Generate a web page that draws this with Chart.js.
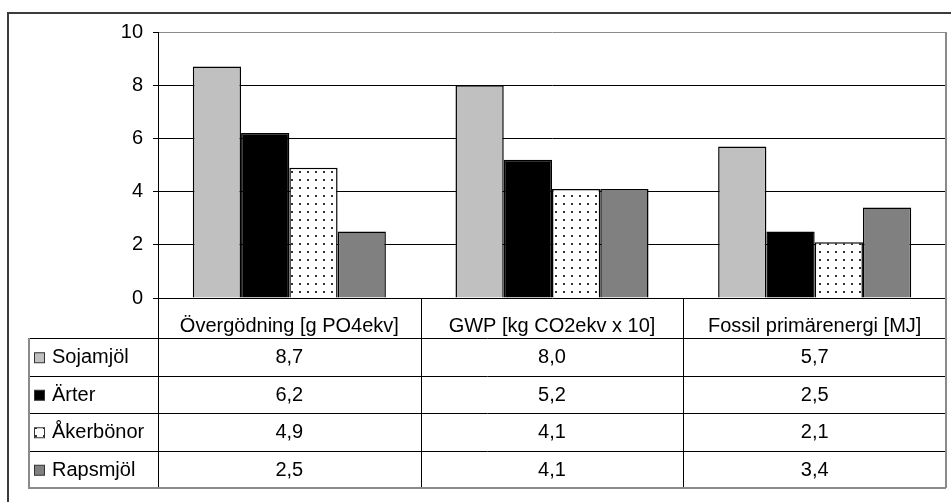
<!DOCTYPE html>
<html>
<head>
<meta charset="utf-8">
<script src="https://cdn.jsdelivr.net/npm/chart.js@4/dist/chart.umd.min.js"></script>
<style>
  body { margin: 0; background: #fff; }
  #wrap { width: 951px; height: 502px; }
</style>
</head>
<body>
<div id="wrap"><canvas id="barChart" width="951" height="502"></canvas></div>
<script>
// Kategorier och serier
const categories = ['Övergödning [g PO4ekv]', 'GWP [kg CO2ekv x 10]', 'Fossil primärenergi [MJ]'];
const seriesNames = ['Sojamjöl', 'Ärter', 'Åkerbönor', 'Rapsmjöl'];
const sojamjol = [8.7, 8.0, 5.7];
const arter = [6.2, 5.2, 2.5];
const akerbonor = [4.9, 4.1, 2.1];
const rapsmjol = [2.5, 4.1, 3.4];
const yTicks = [0, 2, 4, 6, 8, 10];

Chart.defaults.font.family = '"Liberation Sans", Arial, sans-serif';
Chart.defaults.font.size = 20;
Chart.defaults.color = '#000';

// Prickigt mönster för Åkerbönor
const dotCanvas = document.createElement('canvas');
dotCanvas.width = 8;
dotCanvas.height = 8;
const dctx = dotCanvas.getContext('2d');
dctx.fillStyle = '#fff';
dctx.fillRect(0, 0, 8, 8);
dctx.fillStyle = '#333';
dctx.fillRect(3, 3, 2, 2);
const dotPattern = dctx.createPattern(dotCanvas, 'repeat');

const fmt = v => v.toFixed(1).replace('.', ',');

// Datatabell under diagrammet + ram runt allt
const dataTable = {
  id: 'dataTable',
  afterDraw(chart) {
    const { ctx, chartArea } = chart;
    const x = chart.scales.x;
    const n = categories.length;
    const catW = (x.right - x.left) / n;
    const top = chartArea.bottom;
    const headBottom = top + 40;
    const rowH = 37.5;
    const bottom = headBottom + rowH * seriesNames.length;
    const tableLeft = 29;

    ctx.save();
    ctx.lineWidth = 1;

    // inre linjer
    ctx.strokeStyle = '#000';
    ctx.beginPath();
    for (let i = 0; i < n; i++) {
      const ex = Math.round(x.left + i * catW) + 0.5;
      ctx.moveTo(ex, top);
      ctx.lineTo(ex, bottom);
    }
    for (let r = 0; r < seriesNames.length; r++) {
      const ry = Math.round(headBottom + r * rowH) + 0.5;
      ctx.moveTo(tableLeft, ry);
      ctx.lineTo(x.right, ry);
    }
    ctx.stroke();

    // yttre kant (grå)
    ctx.strokeStyle = '#8a8a8a';
    ctx.lineWidth = 2;
    ctx.beginPath();
    ctx.moveTo(tableLeft, Math.round(headBottom));
    ctx.lineTo(tableLeft, bottom);
    ctx.lineTo(x.right, bottom);
    ctx.moveTo(x.right, chartArea.top);
    ctx.lineTo(x.right, bottom);
    ctx.stroke();

    // text och förklaringsrutor
    ctx.font = '20px "Liberation Sans", Arial, sans-serif';
    ctx.textBaseline = 'middle';
    chart.data.datasets.forEach((ds, r) => {
      const cy = headBottom + r * rowH + rowH / 2 + 1;
      ctx.fillStyle = ds.backgroundColor;
      ctx.fillRect(34.5, cy - 5, 10, 10);
      ctx.strokeStyle = '#333';
      ctx.lineWidth = 1;
      ctx.strokeRect(34.5, cy - 5, 10, 10);
      ctx.fillStyle = '#000';
      ctx.textAlign = 'left';
      ctx.fillText(ds.label, 52, cy);
      ctx.textAlign = 'center';
      ds.data.forEach((v, i) => {
        ctx.fillText(fmt(v), x.getPixelForValue(i), cy);
      });
    });

    // ram
    ctx.strokeStyle = '#3c3c3c';
    ctx.lineWidth = 2;
    ctx.strokeRect(8, 13, 1000, 1000);
    ctx.restore();
  }
};

const barChart = new Chart(document.getElementById('barChart'), {
  type: 'bar',
  data: {
    labels: categories,
    datasets: [
      { label: seriesNames[0], data: sojamjol, backgroundColor: '#c0c0c0' },
      { label: seriesNames[1], data: arter, backgroundColor: '#000000' },
      { label: seriesNames[2], data: akerbonor, backgroundColor: dotPattern },
      { label: seriesNames[3], data: rapsmjol, backgroundColor: '#808080' }
    ].map(d => Object.assign(d, { borderColor: '#000', borderWidth: 1.5 }))
  },
  options: {
    responsive: false,
    animation: false,
    categoryPercentage: 0.735,
    barPercentage: 1,
    layout: { padding: { top: 32, right: 5, left: 0, bottom: 0 } },
    plugins: {
      legend: { display: false },
      tooltip: { enabled: false }
    },
    scales: {
      x: {
        afterFit: s => { s.height = 204; },
        grid: { display: false },
        border: { display: false },
        ticks: { padding: 8, maxRotation: 0, autoSkip: false }
      },
      y: {
        min: 0,
        max: 10,
        afterFit: s => { s.width = 158; },
        afterBuildTicks: s => { s.ticks = yTicks.map(v => ({ value: v })); },
        grid: {
          color: c => (c.tick && c.tick.value === 10 ? '#8a8a8a' : '#000'),
          tickColor: '#000',
          tickLength: 5
        },
        border: { color: '#000' },
        ticks: { padding: 10 }
      }
    }
  },
  plugins: [dataTable]
});
</script>
</body>
</html>
